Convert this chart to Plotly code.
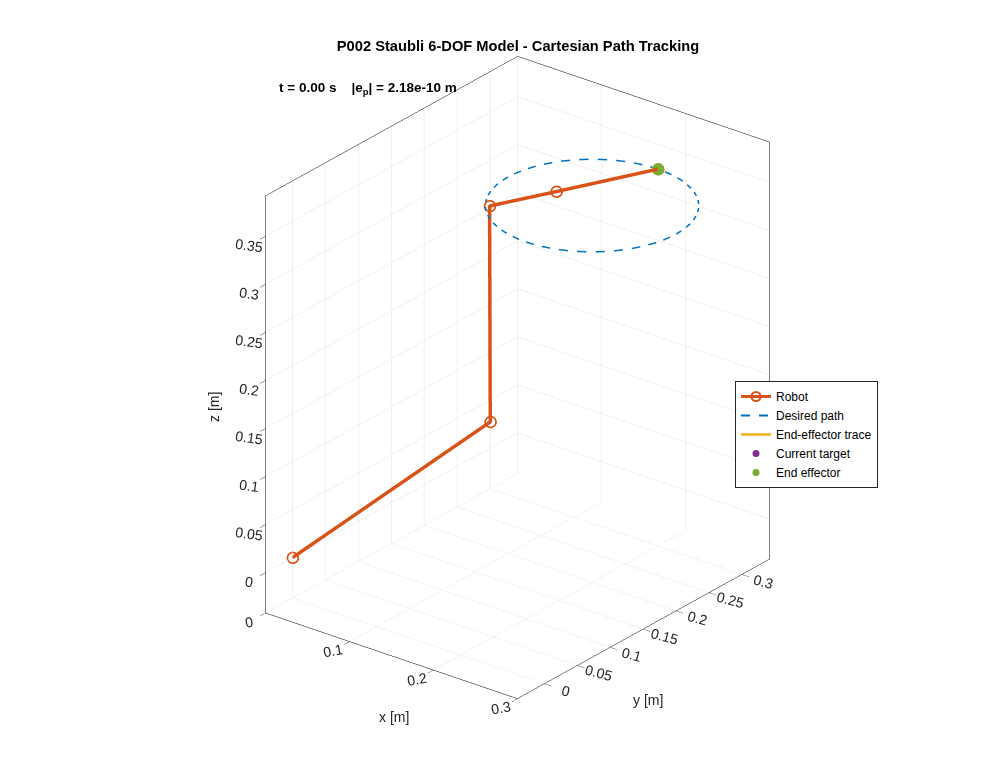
import plotly.graph_objects as go

# ---- data ----
robot_x = [0.0, 0.125, 0.125, 0.155, 0.200]
robot_y = [0.0, 0.141, 0.140, 0.203, 0.300]
robot_z = [0.0, 0.125, 0.350, 0.350, 0.350]

path_x = [0.3000, 0.2996, 0.2985, 0.2966, 0.2940, 0.2906, 0.2866, 0.2819, 0.2766, 0.2707,
          0.2643, 0.2574, 0.2500, 0.2423, 0.2342, 0.2259, 0.2174, 0.2087, 0.2000,
          0.1913, 0.1826, 0.1741, 0.1658, 0.1577, 0.1500, 0.1426, 0.1357, 0.1293,
          0.1234, 0.1181, 0.1134, 0.1094, 0.1060, 0.1034, 0.1015, 0.1004, 0.1000,
          0.1004, 0.1015, 0.1034, 0.1060, 0.1094, 0.1134, 0.1181, 0.1234, 0.1293,
          0.1357, 0.1426, 0.1500, 0.1577, 0.1658, 0.1741, 0.1826, 0.1913, 0.2000,
          0.2087, 0.2174, 0.2259, 0.2342, 0.2423, 0.2500, 0.2574, 0.2643, 0.2707,
          0.2766, 0.2819, 0.2866, 0.2906, 0.2940, 0.2966, 0.2985, 0.2996, 0.3000]
path_y = [0.2000, 0.2087, 0.2174, 0.2259, 0.2342, 0.2423, 0.2500, 0.2574, 0.2643, 0.2707,
          0.2766, 0.2819, 0.2866, 0.2906, 0.2940, 0.2966, 0.2985, 0.2996, 0.3000,
          0.2996, 0.2985, 0.2966, 0.2940, 0.2906, 0.2866, 0.2819, 0.2766, 0.2707,
          0.2643, 0.2574, 0.2500, 0.2423, 0.2342, 0.2259, 0.2174, 0.2087, 0.2000,
          0.1913, 0.1826, 0.1741, 0.1658, 0.1577, 0.1500, 0.1426, 0.1357, 0.1293,
          0.1234, 0.1181, 0.1134, 0.1094, 0.1060, 0.1034, 0.1015, 0.1004, 0.1000,
          0.1004, 0.1015, 0.1034, 0.1060, 0.1094, 0.1134, 0.1181, 0.1234, 0.1293,
          0.1357, 0.1426, 0.1500, 0.1577, 0.1658, 0.1741, 0.1826, 0.1913, 0.2000]
path_z = [0.350] * len(path_x)

trace_x = [0.200]
trace_y = [0.300]
trace_z = [0.350]

target_xyz = [0.200, 0.300, 0.350]
ee_xyz = [0.200, 0.300, 0.350]

x_range = [0.0, 0.3]
y_range = [-0.041, 0.342]
z_range = [-0.042, 0.392]

x_ticks = [0, 0.1, 0.2, 0.3]
y_ticks = [0, 0.05, 0.1, 0.15, 0.2, 0.25, 0.3]
z_ticks = [0, 0.05, 0.1, 0.15, 0.2, 0.25, 0.3, 0.35]

title_text = "P002 Staubli 6-DOF Model - Cartesian Path Tracking"
info_text = "t = 0.00 s&nbsp;&nbsp;&nbsp;&nbsp;|e<sub>p</sub>| = 2.18e-10 m"

FONT = "Liberation Sans, Arial, Helvetica, sans-serif"
AX = "#262626"
C_ROBOT = "#D95319"
C_PATH = "#0072BD"
C_TRACE = "#EDB120"
C_TARGET = "#7E2F8E"
C_EE = "#77AC30"
OFF = 8  # page body margin in px


def px(xp):
    return (xp - OFF) / 1000.0


def py(yp):
    return 1 - (yp - OFF) / 784.0


# dashed desired path: alternate drawn / skipped steps between listed points
dash_x, dash_y, dash_z = [], [], []
for i in range(0, len(path_x) - 1, 2):
    dash_x += [path_x[i], path_x[i + 1], None]
    dash_y += [path_y[i], path_y[i + 1], None]
    dash_z += [path_z[i], path_z[i + 1], None]

fig = go.Figure()
# legend-only entries (2D, no data) so the legend samples look like MATLAB's
fig.add_trace(go.Scatter(x=[None], y=[None], mode="lines+markers", name="Robot",
                         legendgroup="robot",
                         line=dict(color=C_ROBOT, width=3),
                         marker=dict(symbol="circle-open", size=9, color=C_ROBOT,
                                     line=dict(color=C_ROBOT, width=2))))
fig.add_trace(go.Scatter(x=[None], y=[None], mode="lines", name="Desired path",
                         legendgroup="path",
                         line=dict(color=C_PATH, width=2, dash="dash")))
fig.add_trace(go.Scatter(x=[None], y=[None], mode="lines", name="End-effector trace",
                         legendgroup="trace", line=dict(color=C_TRACE, width=2.5)))
fig.add_trace(go.Scatter(x=[None], y=[None], mode="markers", name="Current target",
                         legendgroup="target", marker=dict(size=7, color=C_TARGET)))
fig.add_trace(go.Scatter(x=[None], y=[None], mode="markers", name="End effector",
                         legendgroup="ee", marker=dict(size=7, color=C_EE)))

# 3D content
fig.add_trace(go.Scatter3d(x=robot_x, y=robot_y, z=robot_z, mode="lines+markers",
                           name="Robot", legendgroup="robot", showlegend=False,
                           line=dict(color=C_ROBOT, width=7),
                           marker=dict(symbol="circle-open", size=6.8, color=C_ROBOT,
                                       line=dict(color=C_ROBOT, width=3))))
fig.add_trace(go.Scatter3d(x=dash_x, y=dash_y, z=dash_z, mode="lines",
                           name="Desired path", legendgroup="path", showlegend=False,
                           connectgaps=False, line=dict(color=C_PATH, width=3)))
fig.add_trace(go.Scatter3d(x=trace_x, y=trace_y, z=trace_z, mode="lines",
                           name="End-effector trace", legendgroup="trace",
                           showlegend=False, line=dict(color=C_TRACE, width=3)))
fig.add_trace(go.Scatter3d(x=[target_xyz[0]], y=[target_xyz[1]], z=[target_xyz[2]],
                           mode="markers", name="Current target", legendgroup="target",
                           showlegend=False, marker=dict(size=7, color=C_TARGET)))
fig.add_trace(go.Scatter3d(x=[ee_xyz[0]], y=[ee_xyz[1]], z=[ee_xyz[2]],
                           mode="markers", name="End effector", legendgroup="ee",
                           showlegend=False, marker=dict(size=7, color=C_EE)))


def axis(rng, ticks, angle):
    return dict(title=dict(text=""), range=rng, tickvals=ticks,
                ticktext=[f"{t:g}" for t in ticks], tickangle=angle,
                tickfont=dict(family=FONT, size=13, color=AX),
                showbackground=False, showgrid=True, gridcolor="#e3e3e3", gridwidth=1,
                showline=True, linecolor="#000000", linewidth=1, mirror=True,
                ticks="outside", tickcolor=AX, ticklen=9,
                zeroline=False, showspikes=False)


xr = x_range[1] - x_range[0]
yr = y_range[1] - y_range[0]
zr = z_range[1] - z_range[0]
m = max(xr, yr, zr)
S = 1.253

fig.update_layout(
    width=1000, height=784,
    paper_bgcolor="white", plot_bgcolor="white",
    margin=dict(l=0, r=0, t=0, b=0),
    font=dict(family=FONT, color=AX),
    title=dict(text=f"<b>{title_text}</b>", x=px(518), y=py(46), xanchor="center",
               yanchor="middle", font=dict(family=FONT, size=14.7, color="black")),
    xaxis=dict(visible=False),
    yaxis=dict(visible=False),
    scene=dict(
        domain=dict(x=[0.027, 0.992], y=[0.057, 1.0]),
        xaxis=axis(x_range, x_ticks, -10),
        yaxis=axis(y_range, y_ticks, 15),
        zaxis=axis(z_range, z_ticks, 8),
        aspectmode="manual",
        aspectratio=dict(x=S * xr / m, y=S * yr / m, z=S * zr / m),
        camera=dict(projection=dict(type="orthographic"),
                    eye=dict(x=0.556 * 1.8, y=-0.709 * 1.8, z=0.434 * 1.8),
                    up=dict(x=0, y=0, z=1), center=dict(x=0, y=0, z=0)),
    ),
    legend=dict(x=px(735), y=py(381), xanchor="left", yanchor="top",
                bgcolor="white", bordercolor=AX, borderwidth=1, tracegroupgap=0,
                font=dict(family=FONT, size=12, color="black")),
    annotations=[
        dict(text=f"<b>{info_text}</b>", x=px(277), y=py(88),
             xref="paper", yref="paper", xanchor="left", yanchor="middle",
             showarrow=False, font=dict(family=FONT, size=13.5, color="black")),
        dict(text="x [m]", x=px(394), y=py(717), xref="paper", yref="paper",
             xanchor="center", yanchor="middle", showarrow=False,
             font=dict(family=FONT, size=14, color=AX)),
        dict(text="y [m]", x=px(648), y=py(700), xref="paper", yref="paper",
             xanchor="center", yanchor="middle", showarrow=False,
             font=dict(family=FONT, size=14, color=AX)),
        dict(text="z [m]", x=px(214), y=py(407), xref="paper", yref="paper",
             xanchor="center", yanchor="middle", showarrow=False, textangle=-90,
             font=dict(family=FONT, size=14, color=AX)),
    ],
)

fig.write_html("out.html")
